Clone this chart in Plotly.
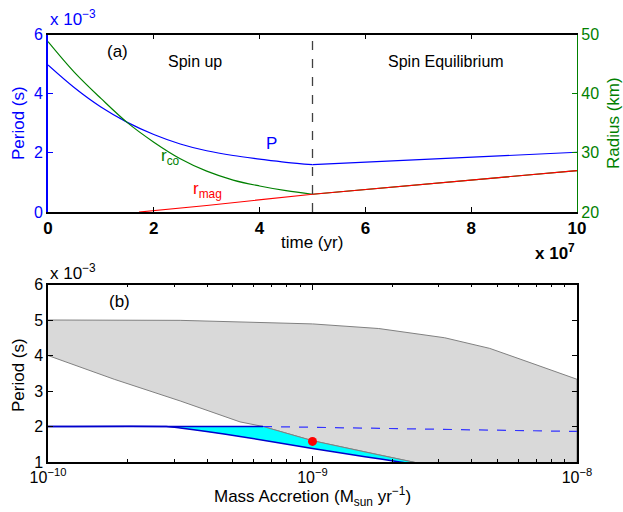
import plotly.graph_objects as go

# ---------------- Panel (a) data ----------------
t_spinup = [0, 0.5, 1, 1.5, 2, 2.5, 3, 3.5, 4, 4.5, 5]            # x 1e7 yr
P_spinup = [4.97, 4.20, 3.55, 3.03, 2.62, 2.30, 2.07, 1.91, 1.79, 1.68, 1.60]  # x 1e-3 s
t_equil = [5, 6, 7, 8, 9, 10]
P_equil = [1.60, 1.68, 1.76, 1.85, 1.93, 2.02]

r_co_spinup = [48.8, 43.6, 39.2, 35.1, 31.8, 29.0, 26.9, 25.4, 24.4, 23.6, 23.0]  # km
t_mag = [1.72, 3, 5, 7.5, 10]
r_mag = [20.0, 21.1, 23.0, 25.0, 27.0]
t_transition = 5

# ---------------- Panel (b) data ----------------
mdot_upper = [1e-10, 3.16e-10, 1e-9, 1.78e-9, 3.16e-9, 4.68e-9, 6.76e-9, 1e-8]
P_upper = [5.0, 4.99, 4.89, 4.76, 4.5, 4.2, 3.78, 3.33]
mdot_lower = [1e-10, 1.78e-10, 3.16e-10, 5.32e-10, 6.5e-10, 1e-9, 1.78e-9, 2.4e-9, 4e-9, 1e-8]
P_lower = [4.0, 3.33, 2.72, 2.13, 2.0, 1.6, 1.2, 1.0, 0.6, 0.0]
mdot_eq_flat = [1e-10, 6.5e-10]
P_eq_flat = [2.0, 2.0]
mdot_eq_dash = [6.5e-10, 1e-9, 3e-9, 1e-8]
P_eq_dash = [2.0, 1.98, 1.93, 1.86]
mdot_min = [1e-10, 2.8e-10, 3.16e-10, 3.98e-10, 5.32e-10, 1e-9, 1.58e-9, 2.14e-9, 3.2e-9]
P_min = [2.0, 2.0, 1.96, 1.86, 1.72, 1.38, 1.15, 1.0, 0.8]
mdot_point = [1e-9]
P_point = [1.58]

BLUE = "#0000ff"
GREEN = "#008000"
RED = "#ff0000"
FONT = "Liberation Sans"

fig = go.Figure()

# ---- panel (a) ----
fig.add_trace(go.Scatter(x=t_spinup, y=r_co_spinup, mode="lines", line=dict(color=GREEN, width=1.2, shape="spline"),
                         xaxis="x", yaxis="y2", showlegend=False))
fig.add_trace(go.Scatter(x=t_mag[2:], y=r_mag[2:], mode="lines", line=dict(color=GREEN, width=1.2),
                         xaxis="x", yaxis="y2", showlegend=False))
fig.add_trace(go.Scatter(x=t_mag, y=r_mag, mode="lines", line=dict(color=RED, width=1.2),
                         xaxis="x", yaxis="y2", showlegend=False))
fig.add_trace(go.Scatter(x=t_spinup, y=P_spinup, mode="lines",
                         line=dict(color=BLUE, width=1.2, shape="spline"), xaxis="x", yaxis="y", showlegend=False))
fig.add_trace(go.Scatter(x=t_equil, y=P_equil, mode="lines",
                         line=dict(color=BLUE, width=1.2), xaxis="x", yaxis="y", showlegend=False))

# ---- panel (b) ----
fig.add_trace(go.Scatter(x=mdot_upper + mdot_lower[::-1], y=P_upper + P_lower[::-1], mode="lines",
                         fill="toself", fillcolor="#d9d9d9", line=dict(color="#808080", width=1),
                         xaxis="x2", yaxis="y3", showlegend=False))
cy_x = mdot_eq_flat + mdot_lower[5:8] + mdot_min[::-1]
cy_y = P_eq_flat + P_lower[5:8] + P_min[::-1]
fig.add_trace(go.Scatter(x=cy_x, y=cy_y, mode="lines", fill="toself", fillcolor="#00ffff",
                         line=dict(width=0), xaxis="x2", yaxis="y3", showlegend=False))
fig.add_trace(go.Scatter(x=mdot_lower[4:], y=P_lower[4:], mode="lines", line=dict(color="#808080", width=1),
                         xaxis="x2", yaxis="y3", showlegend=False))
fig.add_trace(go.Scatter(x=mdot_eq_dash, y=P_eq_dash, mode="lines", line=dict(color="#3333ff", width=1.2, dash="dash"),
                         xaxis="x2", yaxis="y3", showlegend=False))
fig.add_trace(go.Scatter(x=mdot_eq_flat, y=P_eq_flat, mode="lines", line=dict(color="#0000cc", width=1.5),
                         xaxis="x2", yaxis="y3", showlegend=False))
fig.add_trace(go.Scatter(x=mdot_min, y=P_min, mode="lines", line=dict(color="#0000cc", width=1.5, shape="spline", smoothing=0.6),
                         xaxis="x2", yaxis="y3", showlegend=False))
fig.add_trace(go.Scatter(x=mdot_point, y=P_point, mode="markers", marker=dict(color=RED, size=9),
                         xaxis="x2", yaxis="y3", showlegend=False))

W, H = 623, 512
xd = [48 / W, 577 / W]
top_d = [1 - 212 / H, 1 - 34.5 / H]
bot_d = [1 - 462 / H, 1 - 284.5 / H]

tickfont = dict(family=FONT, size=16, color="black")

minor_vals = [k * 10 ** e for e in (-10, -9) for k in range(2, 10)]

fig.update_layout(
    width=W, height=H, margin=dict(l=0, r=0, t=0, b=0, autoexpand=False),
    paper_bgcolor="white", plot_bgcolor="white",
    font=dict(family=FONT, size=16, color="black"),
    xaxis=dict(domain=xd, anchor="y", range=[0, 10], tickvals=[0, 2, 4, 6, 8, 10], automargin=False,
               ticks="inside", ticklen=5, tickcolor="black", showline=True, linecolor="black",
               linewidth=1.5, mirror="ticks", showgrid=False, zeroline=False,
               tickfont=dict(family=FONT, size=17, color="black", weight="bold")),
    yaxis=dict(domain=top_d, anchor="x", range=[0, 6], tickvals=[0, 2, 4, 6], ticks="inside", automargin=False,
               ticklen=5, tickcolor=BLUE, showline=True, linecolor=BLUE, linewidth=2,
               showgrid=False, zeroline=False, tickfont=dict(family=FONT, size=16, color=BLUE)),
    yaxis2=dict(overlaying="y", side="right", anchor="x", range=[20, 50], tickvals=[20, 30, 40, 50],
                ticks="inside", ticklen=5, tickcolor=GREEN, showline=True, linecolor=GREEN, automargin=False,
                linewidth=1.2, showgrid=False, zeroline=False,
                tickfont=dict(family=FONT, size=16, color=GREEN)),
    xaxis2=dict(domain=xd, anchor="y3", type="log", range=[-10, -8], automargin=False,
                tickvals=[1e-10, 1e-9, 1e-8],
                ticktext=["10<sup>−10</sup>", "10<sup>−9</sup>", "10<sup>−8</sup>"],
                ticks="inside", ticklen=6, tickcolor="black", showline=True, linecolor="black",
                linewidth=1.5, mirror="ticks", showgrid=False, zeroline=False, tickfont=tickfont,
                minor=dict(tickvals=minor_vals, ticks="inside", ticklen=3, tickcolor="black", showgrid=False)),
    yaxis3=dict(domain=bot_d, anchor="x2", range=[1, 6], tickvals=[1, 2, 3, 4, 5, 6], automargin=False,
                ticks="inside", ticklen=5, tickcolor="black", showline=True, linecolor="black",
                linewidth=1.5, mirror="ticks", showgrid=False, zeroline=False, tickfont=tickfont),
    shapes=[dict(type="line", xref="x", yref="y domain", x0=t_transition, x1=t_transition, y0=0, y1=1,
                 line=dict(color="#404040", width=1.3, dash="dash"))],
)

ann = [
    # panel (a) texts
    dict(x=1.31, y=5.42, xref="x", yref="y", text="(a)", font=dict(size=17, color="black")),
    dict(x=2.77, y=5.08, xref="x", yref="y", text="Spin up", font=dict(size=16, color="black")),
    dict(x=7.53, y=5.08, xref="x", yref="y", text="Spin Equilibrium", font=dict(size=16, color="black")),
    dict(x=4.23, y=2.32, xref="x", yref="y", text="P", font=dict(size=17, color=BLUE)),
    dict(x=2.31, y=1.86, xref="x", yref="y", text="r<sub>co</sub>", font=dict(size=17, color=GREEN)),
    dict(x=3.02, y=0.74, xref="x", yref="y", text="r<sub>mag</sub>", font=dict(size=17, color=RED)),
    # axis titles (a)
    dict(x=18 / W, y=1 - 123 / H, xref="paper", yref="paper", text="Period (s)", textangle=-90,
         font=dict(size=17, color=BLUE)),
    dict(x=613 / W, y=1 - 123 / H, xref="paper", yref="paper", text="Radius (km)", textangle=-90,
         font=dict(size=17, color=GREEN)),
    dict(x=312 / W, y=1 - 242 / H, xref="paper", yref="paper", text="time (yr)",
         font=dict(size=17, color="black")),
    dict(x=48 / W, y=1 - 18 / H, xref="paper", yref="paper", text="x 10<sup>−3</sup>", xanchor="left",
         font=dict(size=17, color=BLUE)),
    dict(x=577 / W, y=1 - 252 / H, xref="paper", yref="paper", text="<b>x 10<sup>7</sup></b>", xanchor="right",
         font=dict(size=17, color="black")),
    # panel (b)
    dict(x=-9.728, y=5.52, xref="x2", yref="y3", text="(b)", font=dict(size=17, color="black")),
    dict(x=18 / W, y=1 - 375 / H, xref="paper", yref="paper", text="Period (s)", textangle=-90,
         font=dict(size=17, color="black")),
    dict(x=48 / W, y=1 - 272 / H, xref="paper", yref="paper", text="x 10<sup>−3</sup>", xanchor="left",
         font=dict(size=17, color="black")),
    dict(x=312 / W, y=1 - 496 / H, xref="paper", yref="paper",
         text="Mass Accretion (M<sub>sun</sub> yr<sup>−1</sup>)", font=dict(size=17, color="black")),
]
for a in ann:
    a.setdefault("showarrow", False)
    a.setdefault("xanchor", "center")
    a.setdefault("yanchor", "middle")
    a["font"]["family"] = FONT
fig.update_layout(annotations=ann)

fig.write_html("out.html", config={"displayModeBar": False},
               post_script="document.body.style.margin='0';document.body.style.overflow='hidden';")
